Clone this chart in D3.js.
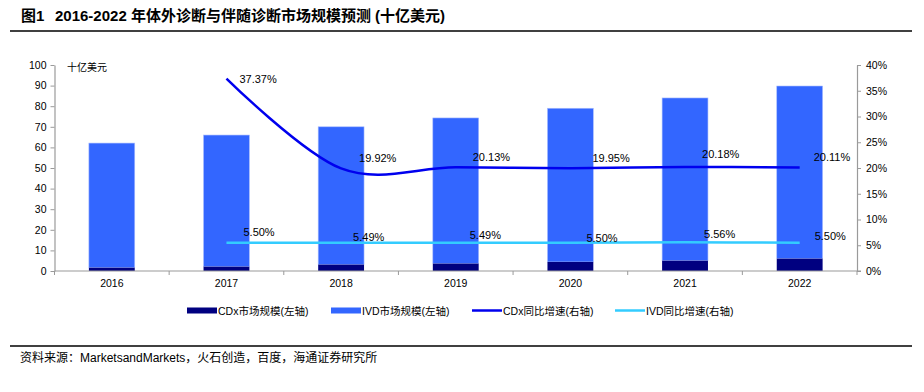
<!DOCTYPE html>
<html><head><meta charset="utf-8">
<script src="https://cdn.jsdelivr.net/npm/d3@7"></script>
<style>
html,body{margin:0;padding:0;background:#fff;}
svg{display:block;font-family:"Liberation Sans",Arial,"Noto Sans CJK SC",sans-serif;}
</style></head>
<body>
<svg id="c" width="924" height="392"></svg>
<script>
// ---- data ----
const years = ["2016","2017","2018","2019","2020","2021","2022"];
const cdxMarket = [1.6, 2.1, 3.1, 3.6, 4.4, 5.0, 6.0];          // 十亿美元 (bottom segment)
const ivdMarket = [60.5, 63.9, 66.9, 70.7, 74.6, 79.0, 83.8];   // 十亿美元 (stacked on top)
const growthYears = ["2017","2018","2019","2020","2021","2022"];
const cdxGrowth = [0.3737, 0.1992, 0.2013, 0.1995, 0.2018, 0.2011];
const ivdGrowth = [0.0550, 0.0549, 0.0549, 0.0550, 0.0556, 0.0550];
const leftTicks = [0,10,20,30,40,50,60,70,80,90,100];
const rightTicks = [0,0.05,0.10,0.15,0.20,0.25,0.30,0.35,0.40];

// ---- layout (label nudges, px) ----
const cdxNudge = [[13,4],[18,-6],[17,-6],[22,-6],[17,-9],[14,-6]];
const ivdNudge = [[17,-7],[12,-2],[14,-4],[16,-1],[19,-4],[15,-3]];

const svg = d3.select("#c");
const L = 54.5, R = 857, T = 65, B = 271;
const x = d3.scaleBand().domain(years).range([L, R]).paddingInner(0.6).paddingOuter(0.3);
const yL = d3.scaleLinear().domain([0,100]).range([B,T]);
const yR = d3.scaleLinear().domain([0,0.4]).range([B,T]);
const cx = d => x(d) + x.bandwidth()/2;
const axisColor = "#9a9a9a";

// Title
svg.append("text").attr("x",21).attr("y",21).attr("font-size",15).attr("font-weight","bold")
  .attr("font-family","'Liberation Sans',Arial,'Noto Sans CJK SC'")
  .text("图1");
svg.append("text").attr("x",55).attr("y",21).attr("font-size",15).attr("font-weight","bold")
  .text("2016-2022 年体外诊断与伴随诊断市场规模预测 (十亿美元)");
svg.append("line").attr("x1",10).attr("x2",912).attr("y1",31).attr("y2",31).attr("stroke","#000").attr("stroke-width",1.5);

// bars
const bars = svg.append("g");
years.forEach((yr,i)=>{
  bars.append("rect").attr("x",x(yr)).attr("width",x.bandwidth())
    .attr("y",yL(cdxMarket[i]+ivdMarket[i])).attr("height",yL(cdxMarket[i]) - yL(cdxMarket[i]+ivdMarket[i]))
    .attr("fill","#3366FF").attr("stroke","#a8bcff").attr("stroke-width",0.6);
  bars.append("rect").attr("x",x(yr)).attr("width",x.bandwidth())
    .attr("y",yL(cdxMarket[i])).attr("height",yL(0)-yL(cdxMarket[i]))
    .attr("fill","#000080");
});

// left axis
const gl = svg.append("g").attr("transform",`translate(${L},0)`)
  .call(d3.axisLeft(yL).tickValues(leftTicks).tickSize(4).tickSizeOuter(0).tickPadding(4));
// right axis
const gr = svg.append("g").attr("transform",`translate(${R},0)`)
  .call(d3.axisRight(yR).tickValues(rightTicks).tickSize(4).tickSizeOuter(0).tickPadding(5).tickFormat(d3.format(".0%")));
// bottom axis
const gb = svg.append("g").attr("transform",`translate(0,${B})`)
  .call(d3.axisBottom(x).tickSize(0).tickPadding(9));
[gl,gr,gb].forEach(g=>{
  g.selectAll("path.domain").attr("stroke",axisColor).attr("stroke-width",1.2);
  g.selectAll(".tick line").attr("stroke",axisColor);
  g.selectAll(".tick text").attr("fill","#000").attr("font-size",10.5).attr("font-family","'Liberation Sans',Arial");
});
gb.select("path.domain").attr("d",`M${L},0H${R+4}`);
// category boundary ticks
const bounds = d3.range(years.length+1).map(i=>L + i*x.step());
svg.append("g").selectAll("line").data(bounds).join("line")
  .attr("x1",d=>d).attr("x2",d=>d).attr("y1",B).attr("y2",B+4).attr("stroke",axisColor);

// unit label
svg.append("text").attr("x",67).attr("y",71).attr("font-size",10).text("十亿美元");

// lines
const line = d3.line().x((d,i)=>cx(growthYears[i])).y(d=>yR(d)).curve(d3.curveCardinal.tension(0));
svg.append("path").datum(ivdGrowth).attr("d",line).attr("fill","none").attr("stroke","#33CCFF").attr("stroke-width",2.5);
svg.append("path").datum(cdxGrowth).attr("d",line).attr("fill","none").attr("stroke","#0000EE").attr("stroke-width",2.5);

// data labels
const fmt = d3.format(".2%");
svg.append("g").selectAll("text").data(cdxGrowth).join("text")
  .attr("x",(d,i)=>cx(growthYears[i])+cdxNudge[i][0]).attr("y",(d,i)=>yR(d)+cdxNudge[i][1])
  .attr("font-size",11).text(d=>fmt(d));
svg.append("g").selectAll("text").data(ivdGrowth).join("text")
  .attr("x",(d,i)=>cx(growthYears[i])+ivdNudge[i][0]).attr("y",(d,i)=>yR(d)+ivdNudge[i][1])
  .attr("font-size",11).text(d=>fmt(d));

// legend
const lg = svg.append("g").attr("font-size",10.5);
const legend = [
  {t:"CDx市场规模(左轴)", type:"rect", c:"#000080", x:187},
  {t:"IVD市场规模(左轴)", type:"rect", c:"#3366FF", x:331},
  {t:"CDx同比增速(右轴)", type:"line", c:"#0000EE", x:472},
  {t:"IVD同比增速(右轴)", type:"line", c:"#33CCFF", x:615}
];
legend.forEach(d=>{
  if(d.type==="rect") lg.append("rect").attr("x",d.x).attr("y",307.5).attr("width",30).attr("height",6).attr("fill",d.c);
  else lg.append("line").attr("x1",d.x).attr("x2",d.x+30).attr("y1",310.5).attr("y2",310.5).attr("stroke",d.c).attr("stroke-width",2.5);
  lg.append("text").attr("x",d.x+31).attr("y",314.5).text(d.t);
});

// footer
svg.append("line").attr("x1",10).attr("x2",912).attr("y1",346).attr("y2",346).attr("stroke","#000").attr("stroke-width",1.5);
svg.append("text").attr("x",20).attr("y",361.5).attr("font-size",12)
  .text("资料来源：MarketsandMarkets，火石创造，百度，海通证券研究所");
</script>
</body></html>
